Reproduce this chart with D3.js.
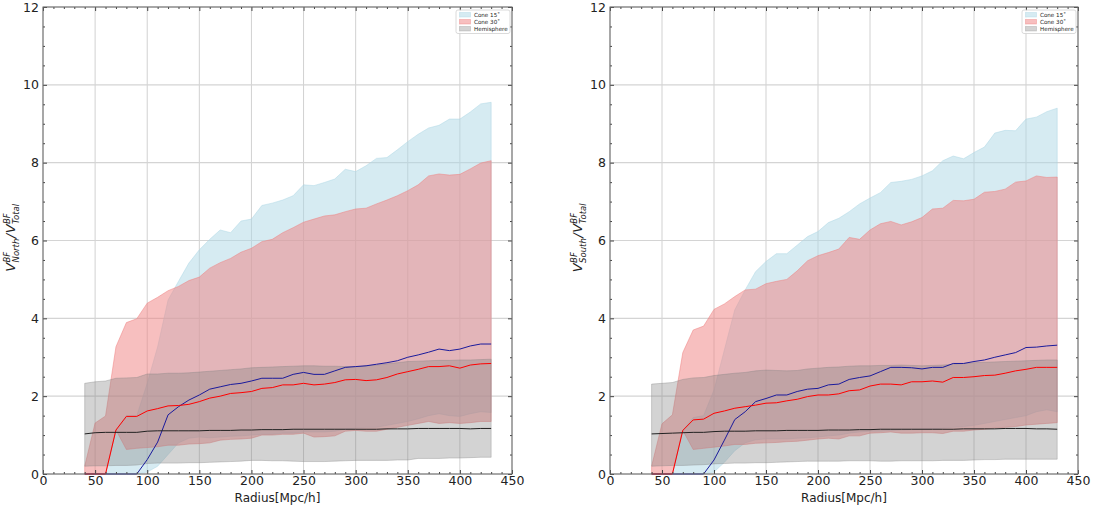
<!DOCTYPE html>
<html>
<head>
<meta charset="utf-8">
<script src="https://cdn.jsdelivr.net/npm/d3@7"></script>
<style>
  body { margin: 0; background: #fff; }
  svg { display: block; font-family: "DejaVu Sans", sans-serif; }
</style>
</head>
<body>
<div id="chart"></div>
<script>
var width = 1094, height = 509;

// radius bins (Mpc/h)
var radius = [40, 50, 60, 70, 80, 90, 100, 110, 120, 130,
              140, 150, 160, 170, 180, 190, 200, 210, 220, 230,
              240, 250, 260, 270, 280, 290, 300, 310, 320, 330,
              340, 350, 360, 370, 380, 390, 400, 410, 420, 430];

var xTicks = [0, 50, 100, 150, 200, 250, 300, 350, 400, 450];
var yTicks = [0, 2, 4, 6, 8, 10, 12];
var legendLabels = ["Cone 15\u02da", "Cone 30\u02da", "Hemisphere"];

// ---- North ----
var northC15Hi = [0, 0, 0, 1.13, 1.5, 1.5, 2.33, 3.27, 4.47, 4.95,
                  5.42, 5.76, 6.03, 6.27, 6.2, 6.5, 6.55, 6.9, 6.96, 7.04,
                  7.15, 7.43, 7.41, 7.49, 7.58, 7.83, 7.77, 7.92, 8.11, 8.13,
                  8.33, 8.54, 8.73, 8.89, 8.96, 9.12, 9.12, 9.3, 9.51, 9.55];
var northC15Lo = [0, 0, 0, 0, 0, 0, 0.05, 0.2, 0.5, 0.8,
                  0.92, 0.95, 0.93, 0.95, 0.97, 0.98, 1.0, 1.02, 1.02, 1.05,
                  1.05, 1.08, 1.08, 1.08, 1.1, 1.15, 1.18, 1.2, 1.2, 1.25,
                  1.3, 1.35, 1.42, 1.5, 1.55, 1.5, 1.48, 1.55, 1.6, 1.58];
var northC15Med = [0, 0, 0, 0, 0, 0, 0.37, 0.82, 1.52, 1.73,
                   1.9, 2.03, 2.18, 2.24, 2.3, 2.33, 2.39, 2.46, 2.46, 2.46,
                   2.56, 2.61, 2.56, 2.56, 2.65, 2.74, 2.76, 2.78, 2.82, 2.86,
                   2.91, 3.0, 3.06, 3.13, 3.21, 3.17, 3.21, 3.29, 3.34, 3.34];
var northC30Hi = [0.2, 1.31, 1.49, 3.27, 3.89, 3.99, 4.39, 4.54, 4.71, 4.82,
                  4.97, 5.06, 5.29, 5.43, 5.54, 5.7, 5.8, 5.97, 6.03, 6.2,
                  6.33, 6.47, 6.55, 6.63, 6.66, 6.74, 6.81, 6.83, 6.94, 7.04,
                  7.15, 7.28, 7.43, 7.66, 7.71, 7.68, 7.7, 7.84, 7.99, 8.05];
var northC30Lo = [0, 0, 0, 1.13, 0.63, 0.66, 0.68, 0.7, 0.74, 0.74,
                  0.77, 0.78, 0.8, 0.87, 0.89, 0.9, 0.92, 1.0, 1.0, 1.02,
                  1.02, 1.05, 0.95, 0.96, 0.98, 1.1, 1.12, 1.1, 1.1, 1.15,
                  1.2, 1.25, 1.3, 1.35, 1.3, 1.32, 1.3, 1.32, 1.35, 1.35];
var northC30Med = [0, 0, 0, 1.13, 1.48, 1.48, 1.62, 1.68, 1.75, 1.76,
                   1.79, 1.86, 1.95, 2.0, 2.07, 2.09, 2.12, 2.2, 2.22, 2.29,
                   2.29, 2.33, 2.29, 2.31, 2.35, 2.42, 2.43, 2.4, 2.42, 2.48,
                   2.57, 2.63, 2.69, 2.76, 2.76, 2.78, 2.72, 2.8, 2.83, 2.84];
var northHemHi = [2.33, 2.37, 2.39, 2.46, 2.47, 2.48, 2.57, 2.57, 2.59, 2.59,
                  2.6, 2.62, 2.64, 2.66, 2.68, 2.7, 2.73, 2.74, 2.75, 2.76,
                  2.77, 2.78, 2.78, 2.77, 2.77, 2.76, 2.76, 2.78, 2.8, 2.83,
                  2.86, 2.89, 2.9, 2.91, 2.92, 2.92, 2.93, 2.93, 2.94, 2.95];
var northHemLo = [0.2, 0.21, 0.21, 0.22, 0.22, 0.23, 0.27, 0.28, 0.28, 0.28,
                  0.29, 0.29, 0.3, 0.31, 0.32, 0.33, 0.35, 0.35, 0.34, 0.34,
                  0.33, 0.32, 0.32, 0.32, 0.33, 0.34, 0.35, 0.35, 0.35, 0.35,
                  0.36, 0.36, 0.4, 0.4, 0.4, 0.41, 0.41, 0.42, 0.43, 0.43];
var northHemMed = [1.03, 1.06, 1.07, 1.07, 1.07, 1.07, 1.1, 1.11, 1.11, 1.11,
                   1.11, 1.11, 1.12, 1.12, 1.12, 1.13, 1.13, 1.14, 1.14, 1.14,
                   1.15, 1.15, 1.15, 1.15, 1.15, 1.15, 1.15, 1.15, 1.15, 1.16,
                   1.16, 1.16, 1.17, 1.17, 1.17, 1.17, 1.17, 1.16, 1.17, 1.17];

// ---- South ----
var southC15Hi = [0, 0, 0, 1.12, 1.45, 1.5, 2.16, 3.19, 4.22, 4.73,
                  5.2, 5.46, 5.66, 5.66, 5.88, 6.1, 6.23, 6.46, 6.57, 6.74,
                  6.94, 7.09, 7.23, 7.49, 7.52, 7.57, 7.66, 7.79, 8.05, 8.17,
                  8.1, 8.26, 8.4, 8.76, 8.83, 8.82, 9.12, 9.17, 9.31, 9.4];
var southC15Lo = [0, 0, 0, 0, 0, 0, 0.05, 0.3, 0.6, 0.8,
                  0.88, 0.9, 0.9, 0.9, 0.92, 0.93, 0.95, 0.98, 1.0, 1.05,
                  1.08, 1.1, 1.1, 1.12, 1.13, 1.14, 1.15, 1.15, 1.18, 1.2,
                  1.22, 1.25, 1.3, 1.35, 1.4, 1.45, 1.5, 1.6, 1.65, 1.6];
var southC15Med = [0, 0, 0, 0, 0, 0, 0.36, 0.87, 1.4, 1.6,
                   1.86, 1.94, 2.03, 2.03, 2.12, 2.18, 2.2, 2.29, 2.31, 2.43,
                   2.48, 2.52, 2.63, 2.74, 2.74, 2.73, 2.7, 2.74, 2.74, 2.84,
                   2.84, 2.89, 2.93, 3.0, 3.06, 3.12, 3.25, 3.26, 3.29, 3.31];
var southC30Hi = [0.2, 1.29, 1.52, 3.12, 3.7, 3.8, 4.23, 4.37, 4.56, 4.73,
                  4.75, 4.89, 4.95, 5.0, 5.22, 5.48, 5.61, 5.69, 5.78, 6.08,
                  6.03, 6.27, 6.43, 6.49, 6.4, 6.48, 6.59, 6.81, 6.83, 7.03,
                  7.02, 7.06, 7.24, 7.26, 7.32, 7.5, 7.53, 7.66, 7.62, 7.63];
var southC30Lo = [0, 0, 0, 1.12, 0.63, 0.66, 0.69, 0.72, 0.76, 0.76,
                  0.79, 0.8, 0.81, 0.83, 0.84, 0.87, 0.9, 0.92, 0.9, 0.98,
                  0.98, 1.05, 1.06, 1.08, 1.05, 1.05, 1.06, 1.06, 1.04, 1.1,
                  1.1, 1.13, 1.15, 1.18, 1.2, 1.22, 1.26, 1.28, 1.3, 1.32];
var southC30Med = [0, 0, 0, 1.12, 1.39, 1.41, 1.56, 1.62, 1.69, 1.73,
                   1.77, 1.82, 1.83, 1.88, 1.92, 1.99, 2.03, 2.03, 2.06, 2.14,
                   2.16, 2.26, 2.31, 2.31, 2.29, 2.37, 2.37, 2.39, 2.36, 2.48,
                   2.48, 2.5, 2.53, 2.54, 2.59, 2.65, 2.69, 2.74, 2.74, 2.74];
var southHemHi = [2.31, 2.33, 2.35, 2.43, 2.47, 2.48, 2.53, 2.56, 2.59, 2.61,
                  2.65, 2.67, 2.66, 2.65, 2.66, 2.7, 2.72, 2.74, 2.75, 2.77,
                  2.78, 2.78, 2.79, 2.79, 2.8, 2.79, 2.78, 2.79, 2.8, 2.82,
                  2.84, 2.86, 2.87, 2.88, 2.89, 2.9, 2.91, 2.92, 2.93, 2.93];
var southHemLo = [0.2, 0.21, 0.22, 0.22, 0.23, 0.24, 0.26, 0.27, 0.28, 0.28,
                  0.29, 0.29, 0.3, 0.31, 0.32, 0.33, 0.33, 0.33, 0.33, 0.34,
                  0.34, 0.34, 0.33, 0.33, 0.34, 0.34, 0.34, 0.34, 0.35, 0.35,
                  0.35, 0.36, 0.37, 0.37, 0.38, 0.38, 0.38, 0.38, 0.38, 0.38];
var southHemMed = [1.03, 1.04, 1.05, 1.06, 1.07, 1.07, 1.09, 1.1, 1.1, 1.1,
                   1.11, 1.11, 1.11, 1.12, 1.12, 1.12, 1.12, 1.13, 1.13, 1.13,
                   1.14, 1.14, 1.15, 1.15, 1.15, 1.15, 1.15, 1.15, 1.15, 1.15,
                   1.16, 1.16, 1.16, 1.16, 1.17, 1.17, 1.17, 1.16, 1.16, 1.15];

var bandColors = ["lightblue", "lightcoral", "gray"];
var bandAlpha = [0.5, 0.5, 0.35];

var svg = d3.select("#chart")
            .append("svg")
            .attr("width", width)
            .attr("height", height);

function drawPanel(left, right, hemi, sub) {
    var top = 7, bottom = 474;

    var x = d3.scaleLinear().domain([0, 450]).range([left, right]);
    var y = d3.scaleLinear().domain([0, 12]).range([bottom, top]);

    var g = svg.append("g");

    // grid
    g.selectAll(".gx").data(xTicks).enter().append("line")
      .attr("x1", d => x(d)).attr("x2", d => x(d))
      .attr("y1", top).attr("y2", bottom)
      .attr("stroke", "#cccccc").attr("stroke-width", 0.9);
    g.selectAll(".gy").data(yTicks).enter().append("line")
      .attr("y1", d => y(d)).attr("y2", d => y(d))
      .attr("x1", left).attr("x2", right)
      .attr("stroke", "#d4d4d4").attr("stroke-width", 1.1);

    // bands: cone15, cone30, hemisphere
    hemi.bands.forEach(function(b, i) {
        var pts = radius.map((r, k) => ({r: r, lo: b[0][k], hi: b[1][k]}));
        var area = d3.area()
                     .x(d => x(d.r))
                     .y0(d => y(d.lo))
                     .y1(d => y(d.hi));
        g.append("path")
          .attr("d", area(pts))
          .attr("fill", bandColors[i])
          .attr("fill-opacity", bandAlpha[i])
          .attr("stroke", bandColors[i])
          .attr("stroke-opacity", bandAlpha[i])
          .attr("stroke-width", 1);
    });

    // median lines
    var lineColors = ["#1a1a9c", "red", "#222222"];
    hemi.meds.forEach(function(m, i) {
        var line = d3.line()
                     .x((d, k) => x(radius[k]))
                     .y(d => y(d));
        g.append("path")
          .attr("d", line(m))
          .attr("fill", "none")
          .attr("stroke", lineColors[i])
          .attr("stroke-width", 1);
    });

    // axes, ticks pointing inward
    var fmt = d3.format("d");
    var xMinor = d3.range(0, 451, 10).filter(v => v % 50 !== 0);
    var yMinor = d3.range(0, 12.01, 0.5).filter(v => v % 2 !== 0);

    function styleAxis(sel) {
        sel.select(".domain").remove();
        sel.selectAll(".tick line").attr("stroke", "#444");
        sel.selectAll("text")
           .attr("fill", "#222")
           .style("font-family", "'DejaVu Sans', sans-serif")
           .style("font-size", "12.5px");
    }

    g.append("g").attr("transform", "translate(0," + bottom + ")")
      .call(d3.axisBottom(x).tickValues(xTicks).tickFormat(fmt).tickSize(-4).tickPadding(2))
      .call(styleAxis);
    g.append("g").attr("transform", "translate(0," + bottom + ")")
      .call(d3.axisBottom(x).tickValues(xMinor).tickFormat("").tickSize(-2))
      .call(styleAxis);
    g.append("g").attr("transform", "translate(0," + top + ")")
      .call(d3.axisTop(x).tickValues(xTicks).tickFormat("").tickSize(-4))
      .call(styleAxis);
    g.append("g").attr("transform", "translate(0," + top + ")")
      .call(d3.axisTop(x).tickValues(xMinor).tickFormat("").tickSize(-2))
      .call(styleAxis);

    g.append("g").attr("transform", "translate(" + left + ",0)")
      .call(d3.axisLeft(y).tickValues(yTicks).tickFormat(fmt).tickSize(-4).tickPadding(4))
      .call(styleAxis);
    g.append("g").attr("transform", "translate(" + left + ",0)")
      .call(d3.axisLeft(y).tickValues(yMinor).tickFormat("").tickSize(-2))
      .call(styleAxis);
    g.append("g").attr("transform", "translate(" + right + ",0)")
      .call(d3.axisRight(y).tickValues(yTicks).tickFormat("").tickSize(-4))
      .call(styleAxis);
    g.append("g").attr("transform", "translate(" + right + ",0)")
      .call(d3.axisRight(y).tickValues(yMinor).tickFormat("").tickSize(-2))
      .call(styleAxis);

    // frame
    g.append("rect")
      .attr("x", left).attr("y", top)
      .attr("width", right - left).attr("height", bottom - top)
      .attr("fill", "none")
      .attr("stroke", "#666")
      .attr("stroke-width", 1);

    // x label
    g.append("text")
      .attr("x", (left + right) / 2)
      .attr("y", 502)
      .attr("text-anchor", "middle")
      .attr("fill", "#222")
      .style("font-size", "12px")
      .text("Radius[Mpc/h]");

    // y label: V^BF_sub / V^BF_Total
    var yl = g.append("g");
    var inner = yl.append("g");
    var cursor = 0;
    function piece(txt, dy, size) {
        var t = inner.append("text")
                  .attr("x", cursor).attr("y", dy)
                  .attr("fill", "#222")
                  .style("font-style", "italic")
                  .style("font-size", size + "px")
                  .text(txt);
        return t.node().getComputedTextLength();
    }
    [sub, "Total"].forEach(function(s, i) {
        if (i === 1) cursor += piece("/", 0, 13) + 0.5;
        cursor += piece("V", 0, 13) + 0.3;
        var w1 = piece("BF", -5.5, 8.5);
        var w2 = piece(s, 3.5, 8.5);
        cursor += Math.max(w1, w2) + 0.5;
    });
    inner.attr("transform", "translate(" + (-cursor / 2) + ",0)");
    yl.attr("transform", "translate(" + (left - 28) + "," + ((top + bottom) / 2 - 3) + ") rotate(-90)");

    // legend
    var lx = right - 56, ly = 10;
    var lg = g.append("g").attr("transform", "translate(" + lx + "," + ly + ")");
    lg.append("rect")
      .attr("width", 54).attr("height", 23.5)
      .attr("rx", 2)
      .attr("fill", "white").attr("fill-opacity", 0.85)
      .attr("stroke", "#d0d0d0").attr("stroke-width", 0.8);
    legendLabels.forEach(function(lab, i) {
        lg.append("rect")
          .attr("x", 3.5).attr("y", 2.5 + i * 7)
          .attr("width", 11).attr("height", 4.5)
          .attr("fill", bandColors[i]).attr("fill-opacity", bandAlpha[i])
          .attr("stroke", bandColors[i]).attr("stroke-opacity", bandAlpha[i])
          .attr("stroke-width", 0.8);
        lg.append("text")
          .attr("x", 18).attr("y", 7 + i * 7)
          .attr("fill", "#222")
          .style("font-size", "5.6px")
          .text(lab);
    });
}

drawPanel(43, 512, {
    bands: [[northC15Lo, northC15Hi], [northC30Lo, northC30Hi], [northHemLo, northHemHi]],
    meds: [northC15Med, northC30Med, northHemMed]
}, "North");

drawPanel(610, 1078, {
    bands: [[southC15Lo, southC15Hi], [southC30Lo, southC30Hi], [southHemLo, southHemHi]],
    meds: [southC15Med, southC30Med, southHemMed]
}, "South");
</script>
</body>
</html>
